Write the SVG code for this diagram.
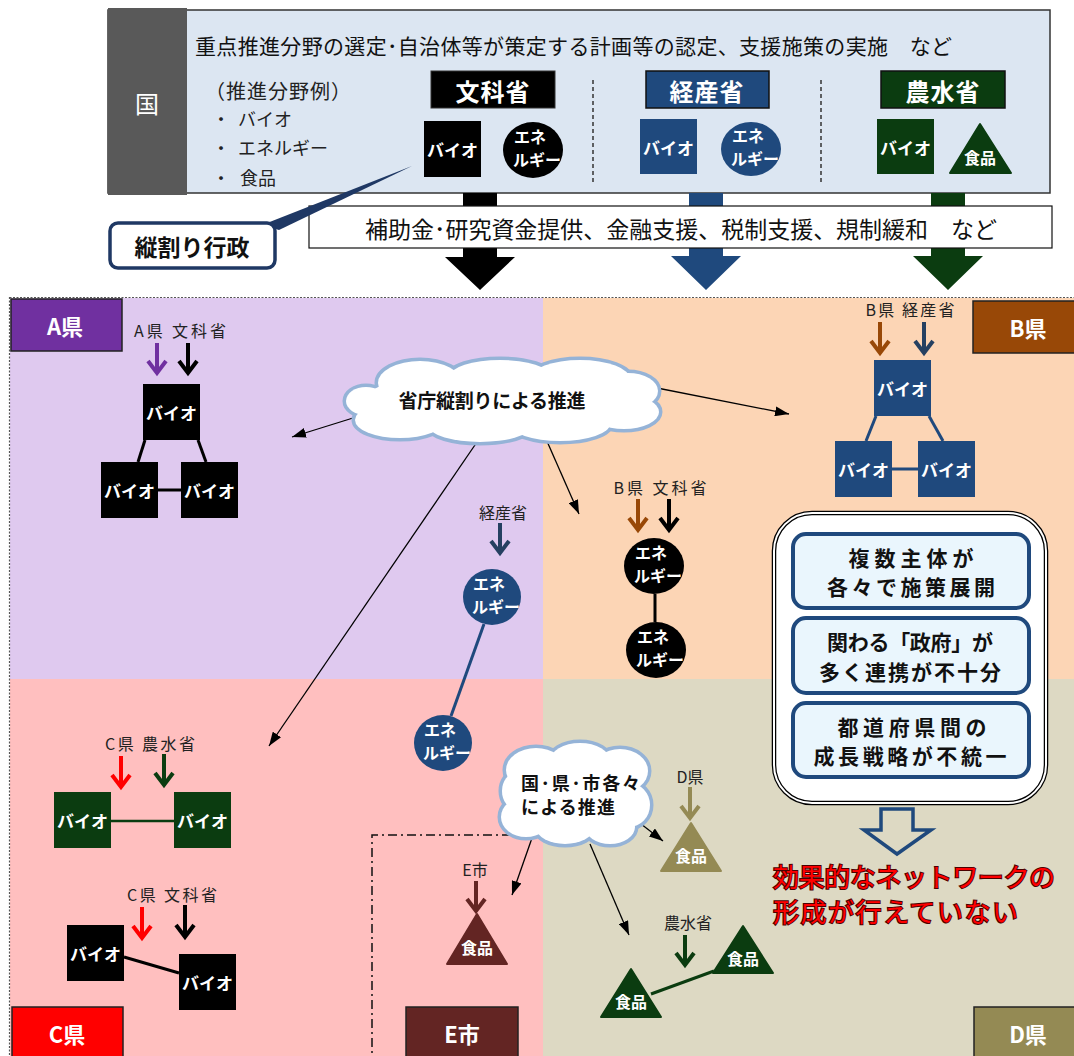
<svg xmlns="http://www.w3.org/2000/svg" width="1074" height="1056" viewBox="0 0 1074 1056">
<defs>
<style>
text{font-family:"Noto Sans CJK JP","Noto Sans",sans-serif}
.nb{font-weight:bold;fill:#fff;font-size:17px;text-anchor:middle;dominant-baseline:central}
.nc{font-weight:bold;fill:#fff;font-size:16px;text-anchor:middle;dominant-baseline:central}
.lab{font-size:16px;fill:#222;text-anchor:middle;dominant-baseline:central}
.tag{font-weight:bold;fill:#fff;font-size:22px;text-anchor:middle;dominant-baseline:central}
.tagbox{stroke:#222;stroke-width:1.5}
.min{font-weight:bold;fill:#fff;font-size:24px;text-anchor:middle;dominant-baseline:central;letter-spacing:1px}
.ptr{fill:none;stroke-width:4;stroke-linejoin:miter}
.conn{fill:none;stroke:#000;stroke-width:1.3;marker-end:url(#ah)}
.link{stroke-width:3;fill:none}
.cls ellipse{fill:none;stroke:#95B3D7;stroke-width:7}
.clf ellipse{fill:#fff}
.sum{fill:#EAF6FD;stroke:#1F497D;stroke-width:4}
.sumt{font-weight:bold;font-size:21px;fill:#111;text-anchor:middle;dominant-baseline:central}
.tri{stroke-width:2;stroke-linejoin:round}
.sep{stroke:#333;stroke-width:1.5;stroke-dasharray:4 3}
.li{font-size:18px;fill:#222;dominant-baseline:central}
</style>
<marker id="ah" viewBox="0 0 14 10" refX="14" refY="5" markerWidth="14" markerHeight="10" markerUnits="userSpaceOnUse" orient="auto"><path d="M0,0L14,5L0,10z" fill="#000"/></marker>
</defs>

<!-- region backgrounds -->
<g id="regions">
<rect x="10" y="298" width="533" height="381" fill="#DFC9EF"/>
<rect x="543" y="298" width="531" height="381" fill="#FCD5B5"/>
<rect x="10" y="679" width="533" height="377" fill="#FFBFBF"/>
<rect x="543" y="679" width="531" height="377" fill="#DDD9C3"/>
<rect x="9.5" y="297.5" width="1070" height="770" fill="none" stroke="#555" stroke-width="1.2" stroke-dasharray="2 1.5"/>
<path d="M530,835H372V1056" fill="none" stroke="#111" stroke-width="1.5" stroke-dasharray="9 4 2 4"/>
</g>

<!-- national level -->
<g id="kuni">
<rect x="108" y="10" width="942" height="183" fill="#DCE6F2" stroke="#333" stroke-width="1.5"/>
<rect x="108" y="8" width="79" height="187" fill="#595959"/>
<text x="147" y="102" font-size="24" fill="#fff" text-anchor="middle" dominant-baseline="central">国</text>
<text x="195" y="45" font-size="21" fill="#111" dominant-baseline="central" textLength="757">重点推進分野の選定･自治体等が策定する計画等の認定、支援施策の実施　など</text>
<text x="205" y="90" font-size="20" fill="#222" dominant-baseline="central" textLength="146">（推進分野例）</text>
<text x="212" y="118" class="li">・</text><text x="238" y="118" class="li">バイオ</text>
<text x="212" y="147" class="li">・</text><text x="238" y="147" class="li">エネルギー</text>
<text x="212" y="177" class="li">・</text><text x="240" y="177" class="li">食品</text>
<line x1="593" y1="80" x2="593" y2="182" class="sep"/>
<line x1="821" y1="80" x2="821" y2="182" class="sep"/>
</g>

<g id="monka-top">
<rect x="431" y="71" width="124" height="37" fill="#000" stroke="#333" stroke-width="1"/>
<text x="493" y="90" class="min">文科省</text>
<rect x="424" y="121" width="57" height="56" fill="#000"/>
<text x="452.5" y="149" class="nb">バイオ</text>
<ellipse cx="533" cy="150" rx="30" ry="28" fill="#000"/>
<text x="530" y="136" class="nc">エネ</text><text x="537" y="159" class="nc">ルギー</text>
</g>

<g id="keisan-top">
<rect x="646" y="71" width="123" height="37" fill="#1F497D" stroke="#111" stroke-width="1.5"/>
<text x="707" y="90" class="min">経産省</text>
<rect x="640" y="119" width="57" height="55" fill="#1F497D"/>
<text x="668.5" y="147" class="nb">バイオ</text>
<ellipse cx="751" cy="149" rx="30" ry="27" fill="#1F497D"/>
<text x="748" y="135" class="nc">エネ</text><text x="755" y="158" class="nc">ルギー</text>
</g>

<g id="nosui-top">
<rect x="881" y="71" width="124" height="37" fill="#0B3C10" stroke="#111" stroke-width="1.5"/>
<text x="943" y="90" class="min">農水省</text>
<rect x="877" y="119" width="57" height="55" fill="#0B3C10"/>
<text x="905.5" y="147" class="nb">バイオ</text>
<polygon points="980,124 950,173 1011,173" fill="#0B3C10" stroke="#0B3C10" class="tri"/>
<text x="980" y="157" class="nc" font-size="17">食品</text>
</g>

<!-- big arrows -->
<g id="big-arrows">
<polygon points="463,193 497,193 497,257 515,257 480,290 445,257 463,257" fill="#000"/>
<polygon points="689,193 723,193 723,256 741,256 706,290 671,256 689,256" fill="#1F497D"/>
<polygon points="931,193 965,193 965,256 983,256 948,290 913,256 931,256" fill="#0B3C10"/>
</g>

<g id="banner">
<rect x="309" y="206" width="743" height="42" fill="#fff" stroke="#111" stroke-width="1.2"/>
<text x="681" y="228" font-size="23" fill="#111" text-anchor="middle" dominant-baseline="central" textLength="632">補助金･研究資金提供、金融支援、税制支援、規制緩和　など</text>
</g>

<g id="tatewari">
<polygon points="262,225 279,230 412,166" fill="#1F3864"/>
<rect x="110" y="223" width="165" height="45" rx="8" fill="#fff" stroke="#1F3864" stroke-width="3.5"/>
<text x="192" y="246" font-size="23" font-weight="bold" fill="#111" text-anchor="middle" dominant-baseline="central">縦割り行政</text>
</g>

<!-- connectors -->
<g id="connectors">
<line x1="353" y1="418" x2="292" y2="437" class="conn"/>
<line x1="477" y1="442" x2="269" y2="746" class="conn"/>
<line x1="546" y1="439" x2="579" y2="514" class="conn"/>
<line x1="652" y1="387" x2="789" y2="414" class="conn"/>
<line x1="532" y1="838" x2="512" y2="895" class="conn"/>
<line x1="590" y1="844" x2="629" y2="935" class="conn"/>
<line x1="632" y1="817" x2="663" y2="841" class="conn"/>
<g class="link" stroke="#000">
<line x1="145" y1="440" x2="138" y2="462"/><line x1="198" y1="440" x2="206" y2="462"/><line x1="158" y1="490" x2="181" y2="490"/>
<line x1="655" y1="594" x2="655" y2="622"/>
<line x1="124" y1="957" x2="179" y2="973"/>
</g>
<g class="link" stroke="#1F497D">
<line x1="876" y1="416" x2="866" y2="441"/><line x1="929" y1="416" x2="943" y2="441"/><line x1="892" y1="469" x2="918" y2="469"/>
<line x1="484" y1="624" x2="451" y2="716"/>
</g>
<line x1="111" y1="821" x2="174" y2="821" stroke="#0B3C10" stroke-width="2.5"/>
<line x1="651" y1="994" x2="714" y2="971" stroke="#0B3C10" stroke-width="3"/>
<!-- small ministry arrows -->
<path d="M157,343V373M148,361L157,373L166,361" class="ptr" stroke="#7030A0"/>
<path d="M188,343V373M179,361L188,373L197,361" class="ptr" stroke="#000"/>
<path d="M880,322V353M871,341L880,353L889,341" class="ptr" stroke="#984807"/>
<path d="M924,322V353M915,341L924,353L933,341" class="ptr" stroke="#254061"/>
<path d="M638,499V530M629,518L638,530L647,518" class="ptr" stroke="#984807"/>
<path d="M669,499V530M660,518L669,530L678,518" class="ptr" stroke="#000"/>
<path d="M500,523V553M491,541L500,553L509,541" class="ptr" stroke="#254061"/>
<path d="M121,756V787M112,775L121,787L130,775" class="ptr" stroke="#FF0000"/>
<path d="M164,754V785M155,773L164,785L173,773" class="ptr" stroke="#0B3C10"/>
<path d="M142,907V938M133,926L142,938L151,926" class="ptr" stroke="#FF0000"/>
<path d="M185,905V937M176,925L185,937L194,925" class="ptr" stroke="#000"/>
<path d="M476,881V911M467,899L476,911L485,899" class="ptr" stroke="#632523"/>
<path d="M690,787V818M681,806L690,818L699,806" class="ptr" stroke="#948A54"/>
<path d="M685,935V965M676,953L685,965L694,953" class="ptr" stroke="#0B3C10"/>
</g>

<!-- clouds -->
<g id="cloud-shocho">
<g class="cls">
<ellipse cx="502" cy="402" rx="140" ry="32"/><ellipse cx="420" cy="383" rx="42" ry="22"/><ellipse cx="500" cy="376" rx="50" ry="16"/><ellipse cx="580" cy="379" rx="50" ry="19"/><ellipse cx="628" cy="391" rx="30" ry="18"/>
<ellipse cx="400" cy="420" rx="45" ry="18"/><ellipse cx="480" cy="427" rx="50" ry="15"/><ellipse cx="560" cy="424" rx="50" ry="17"/><ellipse cx="624" cy="412" rx="35" ry="17"/><ellipse cx="366" cy="401" rx="20" ry="14"/>
</g>
<g class="clf">
<ellipse cx="502" cy="402" rx="140" ry="32"/><ellipse cx="420" cy="383" rx="42" ry="22"/><ellipse cx="500" cy="376" rx="50" ry="16"/><ellipse cx="580" cy="379" rx="50" ry="19"/><ellipse cx="628" cy="391" rx="30" ry="18"/>
<ellipse cx="400" cy="420" rx="45" ry="18"/><ellipse cx="480" cy="427" rx="50" ry="15"/><ellipse cx="560" cy="424" rx="50" ry="17"/><ellipse cx="624" cy="412" rx="35" ry="17"/><ellipse cx="366" cy="401" rx="20" ry="14"/>
</g>
<text x="492" y="399" font-size="19" font-weight="bold" fill="#111" text-anchor="middle" dominant-baseline="central" textLength="187">省庁縦割りによる推進</text>
</g>

<g id="cloud-kakuken">
<g class="cls">
<ellipse cx="576" cy="794" rx="60" ry="38"/><ellipse cx="536" cy="770" rx="30" ry="22"/><ellipse cx="580" cy="761" rx="30" ry="18"/><ellipse cx="620" cy="771" rx="28" ry="22"/><ellipse cx="629" cy="805" rx="21" ry="22"/>
<ellipse cx="610" cy="827" rx="25" ry="17"/><ellipse cx="565" cy="829" rx="28" ry="15"/><ellipse cx="526" cy="817" rx="25" ry="20"/><ellipse cx="516" cy="791" rx="14" ry="18"/>
</g>
<g class="clf">
<ellipse cx="576" cy="794" rx="60" ry="38"/><ellipse cx="536" cy="770" rx="30" ry="22"/><ellipse cx="580" cy="761" rx="30" ry="18"/><ellipse cx="620" cy="771" rx="28" ry="22"/><ellipse cx="629" cy="805" rx="21" ry="22"/>
<ellipse cx="610" cy="827" rx="25" ry="17"/><ellipse cx="565" cy="829" rx="28" ry="15"/><ellipse cx="526" cy="817" rx="25" ry="20"/><ellipse cx="516" cy="791" rx="14" ry="18"/>
</g>
<text x="521" y="782" font-size="18" font-weight="bold" fill="#111" dominant-baseline="central" textLength="119">国･県･市各々</text>
<text x="521" y="806" font-size="18" font-weight="bold" fill="#111" dominant-baseline="central" textLength="94">による推進</text>
</g>

<!-- A prefecture -->
<g id="pref-a">
<rect x="11" y="299" width="111" height="52" fill="#7030A0" class="tagbox"/>
<text x="65" y="325" class="tag">A県</text>
<text x="180" y="330" class="lab" textLength="92">A県 文科省</text>
<rect x="143" y="384" width="57" height="56" fill="#000"/><text x="171.5" y="412" class="nb">バイオ</text>
<rect x="101" y="462" width="57" height="56" fill="#000"/><text x="129.5" y="490" class="nb">バイオ</text>
<rect x="181" y="462" width="57" height="56" fill="#000"/><text x="209.5" y="490" class="nb">バイオ</text>
</g>

<g id="keisan-ene">
<text x="503" y="512" class="lab">経産省</text>
<ellipse cx="492" cy="597" rx="29" ry="28" fill="#1F497D"/>
<text x="489" y="583" class="nc">エネ</text><text x="496" y="606" class="nc">ルギー</text>
<ellipse cx="443" cy="743" rx="29" ry="28" fill="#1F497D"/>
<text x="440" y="729" class="nc">エネ</text><text x="447" y="752" class="nc">ルギー</text>
</g>

<!-- B prefecture -->
<g id="pref-b">
<rect x="973" y="301" width="105" height="52" fill="#984807" class="tagbox"/>
<text x="1028" y="327" class="tag">B県</text>
<text x="910" y="309" class="lab" textLength="89">B県 経産省</text>
<rect x="874" y="360" width="57" height="56" fill="#1F497D"/><text x="902.5" y="388" class="nb">バイオ</text>
<rect x="835" y="441" width="57" height="56" fill="#1F497D"/><text x="863.5" y="469" class="nb">バイオ</text>
<rect x="918" y="441" width="57" height="56" fill="#1F497D"/><text x="946.5" y="469" class="nb">バイオ</text>
</g>

<g id="pref-b-monka">
<text x="660" y="487" class="lab" textLength="93">B県 文科省</text>
<ellipse cx="654" cy="566" rx="30" ry="28" fill="#000"/>
<text x="651" y="552" class="nc">エネ</text><text x="658" y="575" class="nc">ルギー</text>
<ellipse cx="656" cy="650" rx="30" ry="28" fill="#000"/>
<text x="653" y="636" class="nc">エネ</text><text x="660" y="659" class="nc">ルギー</text>
</g>

<!-- C prefecture -->
<g id="pref-c">
<rect x="12" y="1007" width="111" height="52" fill="#FF0000" class="tagbox"/>
<text x="67" y="1033" class="tag">C県</text>
<text x="150" y="743" class="lab" textLength="90">C県 農水省</text>
<rect x="54" y="792" width="57" height="56" fill="#0B3C10"/><text x="82.5" y="820" class="nb">バイオ</text>
<rect x="174" y="792" width="57" height="56" fill="#0B3C10"/><text x="202.5" y="820" class="nb">バイオ</text>
<text x="172" y="894" class="lab" textLength="90">C県 文科省</text>
<rect x="67" y="925" width="57" height="56" fill="#000"/><text x="95.5" y="953" class="nb">バイオ</text>
<rect x="179" y="954" width="57" height="56" fill="#000"/><text x="207.5" y="982" class="nb">バイオ</text>
</g>

<!-- E city -->
<g id="city-e">
<rect x="406" y="1007" width="112" height="52" fill="#632523" class="tagbox"/>
<text x="462" y="1033" class="tag">E市</text>
<text x="475" y="869" class="lab">E市</text>
<polygon points="477,914 447,964 507,964" fill="#632523" stroke="#632523" class="tri"/>
<text x="477" y="947" class="nc">食品</text>
</g>

<!-- D prefecture -->
<g id="pref-d">
<rect x="974" y="1007" width="104" height="52" fill="#948A54" class="tagbox"/>
<text x="1028" y="1033" class="tag">D県</text>
<text x="690" y="776" class="lab">D県</text>
<polygon points="691,823 661,871 721,871" fill="#948A54" stroke="#948A54" class="tri"/>
<text x="691" y="855" class="nc">食品</text>
<text x="688" y="922" class="lab">農水省</text>
<polygon points="743,926 713,973 773,973" fill="#0B3C10" stroke="#0B3C10" class="tri"/>
<text x="743" y="958" class="nc">食品</text>
<polygon points="631,969 601,1017 661,1017" fill="#0B3C10" stroke="#0B3C10" class="tri"/>
<text x="631" y="1001" class="nc">食品</text>
</g>

<!-- summary -->
<g id="summary">
<rect x="774" y="513" width="272" height="290" rx="38" fill="#fff" stroke="#000" stroke-width="4.5"/>
<rect x="774" y="513" width="272" height="290" rx="38" fill="none" stroke="#fff" stroke-width="2"/>
<rect x="793" y="534" width="236" height="74" rx="13" class="sum"/>
<text x="911" y="557" class="sumt" textLength="125">複数主体が</text>
<text x="911" y="586" class="sumt" textLength="168">各々で施策展開</text>
<rect x="793" y="618" width="236" height="75" rx="13" class="sum"/>
<text x="910" y="641" class="sumt" textLength="166">関わる「政府」が</text>
<text x="910" y="671" class="sumt" textLength="182">多く連携が不十分</text>
<rect x="793" y="703" width="236" height="74" rx="13" class="sum"/>
<text x="912" y="726" class="sumt" textLength="149">都道府県間の</text>
<text x="910" y="755" class="sumt" textLength="193">成長戦略が不統一</text>
</g>

<g id="conclusion">
<polygon points="881,809 913,809 913,830 931,830 897,854 864,830 881,830" fill="none" stroke="#1F497D" stroke-width="3.5"/>
<text x="773" y="875" font-size="26" fill="#FF0000" stroke="#4a0000" stroke-width="2" paint-order="stroke" dominant-baseline="central" textLength="282">効果的なネットワークの</text>
<text x="773" y="910" font-size="26" fill="#FF0000" stroke="#4a0000" stroke-width="2" paint-order="stroke" dominant-baseline="central" textLength="245">形成が行えていない</text>
</g>
</svg>
